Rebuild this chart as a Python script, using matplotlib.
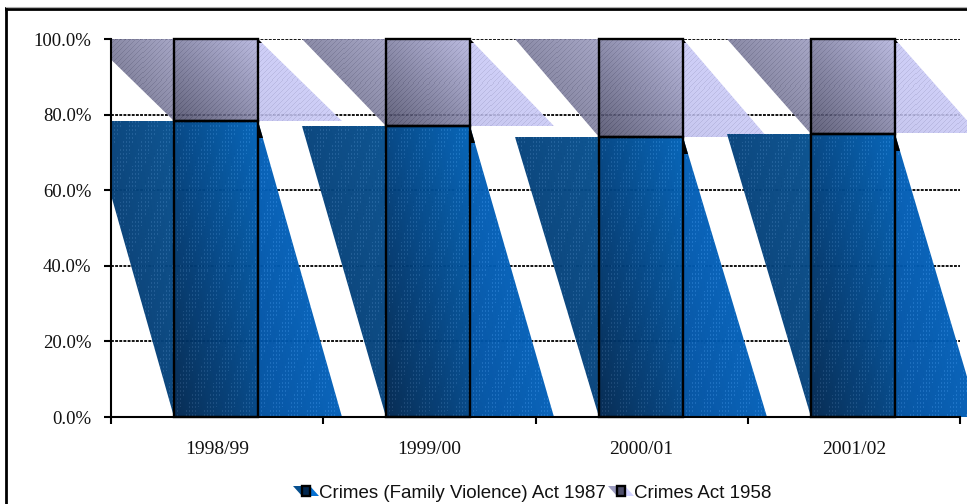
import numpy as np
import matplotlib
matplotlib.use("Agg")
import matplotlib.pyplot as plt
from matplotlib.colors import to_rgb
from matplotlib.legend_handler import HandlerBase
from matplotlib.lines import Line2D
from matplotlib.patches import Patch, Polygon, Rectangle

years = ["1998/99", "1999/00", "2000/01", "2001/02"]
family_violence = [78.3, 77.1, 74.0, 75.0]
crimes_act = [21.7, 22.9, 26.0, 25.0]
y_ticks = [0, 20, 40, 60, 80, 100]
series_names = ["Crimes (Family Violence) Act 1987", "Crimes Act 1958"]

W, H = 967, 504
BAR = 84 / 212.25  # bar width in category units
NUDGE = 1 / 212.25  # bars sit a pixel left of the category centre

# (low corner, high corner) colours of each face
BLUE = {"left": ("#043568", "#07508f"), "mid": ("#00264f", "#0062b8"), "right": ("#004f9e", "#0570d2")}
GREY = {"left": ("#5c5c78", "#9c9cc0"), "mid": ("#4e4e6a", "#b4b4de"), "right": ("#c0c0ee", "#d2d2ff")}


def textured(ax, box, verts, colours, kind, alpha):
    # gradient image with a fine pattern, cut to the polygon
    x0, x1, y0, y1 = box
    px_w = max(2, int(abs(x1 - x0) * 212.25))
    px_h = max(2, int(abs(y1 - y0) * 3.78))
    yy, xx = np.mgrid[0:px_h, 0:px_w]
    t = (xx / px_w + (px_h - 1 - yy) / px_h) / 2
    lo, hi = np.array(to_rgb(colours[0])), np.array(to_rgb(colours[1]))
    rgb = lo + (hi - lo) * t[..., None]
    if kind == "blue":
        dots = (xx % 3 == 0) & (yy % 4 < 2) & ((xx + yy // 3) % 18 < 11)
        rgb = rgb + dots[..., None] * 0.08
    else:
        rgb = rgb - ((xx + yy) % 5 == 0)[..., None] * 0.08
    img = np.dstack([np.clip(rgb, 0, 1), np.full(t.shape, alpha)])
    im = ax.imshow(img, extent=(x0, x1, y0, y1), origin="upper", aspect="auto",
                   interpolation="nearest", zorder=2)
    clip = Polygon(verts, closed=True, transform=ax.transData, fc="none", ec="none")
    im.set_clip_path(clip)
    im.set_clip_box(ax.figure.bbox)
    im.set_clip_on(True)


def draw_segment(ax, pos, bottom, top, faces, kind, alpha, tip):
    left = pos - BAR / 2 - NUDGE
    right = left + BAR
    # back left wedge, stops at the axis
    start = max(0, left - BAR)
    textured(ax, (start, left, bottom, top),
             [(left - BAR, top), (left, top), (left, bottom)], faces["left"], kind, alpha)
    textured(ax, (left, right, bottom, top),
             [(left, bottom), (right, bottom), (right, top), (left, top)], faces["mid"], kind, alpha)
    # front right wedge runs past the axis
    textured(ax, (right, right + BAR, bottom, top),
             [(right, top), (right, bottom), (right + BAR, bottom)], faces["right"], kind, alpha)
    ax.add_patch(Polygon([(right, top), (right, top - tip), (right + BAR * tip / (top - bottom), top - tip)],
                         closed=True, fc="black", ec="none", zorder=3, clip_on=False))
    ax.add_patch(Rectangle((left, bottom), BAR, top - bottom, fc="none", ec="black", lw=1.7, zorder=5, clip_on=False))


class WedgeKey(HandlerBase):
    def __init__(self, faces):
        super().__init__()
        self.faces = faces

    def create_artists(self, legend, orig, xd, yd, width, height, fontsize, trans):
        h = 7.0
        s = width / 3
        y = -yd + (height - h) / 2
        a = Polygon([(0, y + h), (s, y + h), (s, y)], closed=True, fc=self.faces["left"][1], ec="none", transform=trans)
        c = Polygon([(2 * s, y + h), (2 * s, y), (3 * s, y)], closed=True, fc=self.faces["right"][1], ec="none", transform=trans)
        b = Rectangle((s, y), s, h, fc=self.faces["mid"][0], ec="black", lw=1.7, transform=trans)
        return [a, c, b]


fig = plt.figure(figsize=(W / 100, H / 100), dpi=100)
ax = fig.add_axes([111 / W, 1 - 417 / H, (960 - 111) / W, (417 - 39) / H])

positions = np.arange(len(years)) + 0.5
ax.set_axisbelow(True)
ax.yaxis.grid(True, color="black", lw=1.3, ls=(0, (1.6, 0.7)), zorder=1)

for pos, fv, ca in zip(positions, family_violence, crimes_act):
    draw_segment(ax, pos, 0, fv, BLUE, "blue", 0.97, 4.5)
    draw_segment(ax, pos, fv, fv + ca, GREY, "grey", 0.88, 1.0)

ax.set_xlim(0, 4)
ax.set_ylim(0, 100)
ax.set_yticks(y_ticks)
ax.set_yticklabels([f"{v:.1f}%" for v in y_ticks], fontfamily="Liberation Serif", fontsize=13.5, color="#111111")
ax.set_xticks([0, 1, 2, 3, 4])
ax.set_xticklabels([])
ax.set_xticks(positions, minor=True)
ax.set_xticklabels(years, minor=True, fontfamily="Liberation Serif", fontsize=14, color="#111111")
ax.tick_params(axis="x", which="minor", length=0, pad=17)
ax.tick_params(axis="x", which="major", length=5, width=1.5, direction="out")
ax.tick_params(axis="y", length=5, width=1.5, pad=9)
for side in ["top", "right"]:
    ax.spines[side].set_visible(False)
for side in ["left", "bottom"]:
    ax.spines[side].set_linewidth(1.5)
    ax.spines[side].set_zorder(6)

# outer frame, only left and top fall inside the image
fig.add_artist(Line2D([6 / W, 6 / W], [0, 1 - 8 / H], color="black", lw=2))
fig.add_artist(Line2D([6 / W, 1], [1 - 8.5 / H, 1 - 8.5 / H], color="black", lw=2))
fig.add_artist(Line2D([6 / W, 1], [1 - 6.8 / H, 1 - 6.8 / H], color="#b0b0b0", lw=0.8))

h1, h2 = Patch(), Patch()
fig.legend([h1, h2], series_names, loc="center", bbox_to_anchor=(532.5 / W, 1 - 493 / H),
           ncol=2, frameon=False, handler_map={h1: WedgeKey(BLUE), h2: WedgeKey(GREY)},
           prop={"family": "Liberation Sans", "size": 13.5}, handlelength=1.35, handleheight=0.6,
           handletextpad=0.05, columnspacing=0.1, borderpad=0, borderaxespad=0, labelcolor="#111111")

fig.savefig("out.png", dpi=100)
